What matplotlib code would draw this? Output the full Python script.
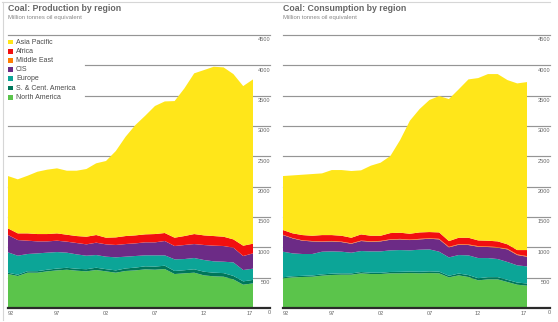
import matplotlib
matplotlib.use("Agg")
import matplotlib.pyplot as plt
from matplotlib.patches import Rectangle
from matplotlib.lines import Line2D
import matplotlib.transforms as mtransforms

plt.rcParams["font.family"] = ["Liberation Sans", "DejaVu Sans"]

years = list(range(1992, 2018))
regions = ["North America", "S. & Cent. America", "Europe", "CIS",
           "Middle East", "Africa", "Asia Pacific"]
colors = ["#5bc44b", "#00775a", "#0ca597", "#6c2b86",
          "#ff7f00", "#f20f0f", "#ffe61a"]

# Coal production by region, million tonnes oil equivalent
prod_na = [560, 527, 582, 582, 604, 620, 631, 615, 604, 626, 604, 582, 610,
           620, 637, 631, 642, 560, 571, 582, 538, 522, 516, 472, 384, 406]
prod_sca = [22, 22, 24, 25, 27, 30, 32, 32, 35, 38, 36, 38, 42,
            46, 50, 52, 55, 50, 52, 56, 60, 60, 59, 57, 55, 57]
prod_eu = [335, 313, 284, 293, 281, 272, 249, 237, 223, 209, 206, 215, 194,
           191, 181, 185, 171, 192, 184, 186, 193, 187, 188, 223, 187, 185]
prod_cis = [286, 258, 219, 198, 186, 187, 181, 187, 187, 203, 203, 203, 208,
            208, 214, 214, 236, 219, 231, 230, 247, 258, 258, 242, 230, 252]
prod_me = [1, 1, 1, 1, 1, 1, 1, 1, 1, 1, 1, 1, 1,
           1, 1, 1, 1, 1, 1, 1, 1, 1, 1, 1, 1, 1]
prod_af = [108, 109, 120, 120, 120, 120, 114, 114, 125, 126, 109, 125, 131,
           131, 131, 136, 131, 137, 147, 164, 158, 158, 153, 136, 170, 159]
prod_ap = [863, 891, 950, 1027, 1061, 1072, 1055, 1077, 1116, 1182, 1264, 1423,
           1637, 1819, 1955, 2111, 2169, 2252, 2434, 2649, 2725, 2791, 2791,
           2725, 2631, 2708]

# Coal consumption by region, million tonnes oil equivalent
cons_na = [489, 505, 511, 516, 533, 544, 549, 549, 571, 560, 560, 571, 571,
           576, 571, 576, 571, 505, 538, 511, 456, 472, 472, 428, 384, 368]
cons_sca = [18, 18, 19, 20, 21, 22, 22, 21, 22, 22, 21, 23, 25,
            25, 26, 28, 28, 26, 30, 32, 35, 36, 37, 36, 35, 36]
cons_eu = [421, 377, 360, 354, 374, 367, 357, 341, 346, 351, 352, 356, 359,
           349, 364, 362, 329, 303, 305, 324, 332, 315, 298, 294, 284, 282]
cons_cis = [274, 247, 219, 208, 164, 165, 159, 148, 165, 159, 165, 175, 176,
            170, 170, 176, 203, 165, 170, 171, 187, 182, 187, 208, 170, 159]
cons_me = [5, 5, 6, 6, 6, 7, 7, 7, 7, 8, 8, 8, 8,
           9, 9, 9, 9, 9, 9, 10, 10, 10, 10, 10, 10, 10]
cons_af = [78, 78, 87, 87, 104, 97, 97, 92, 102, 91, 85, 102, 102,
           95, 106, 101, 106, 95, 106, 110, 94, 94, 94, 73, 72, 100]
cons_ap = [890, 956, 995, 1017, 1017, 1072, 1083, 1100, 1056, 1155, 1204, 1270,
           1527, 1863, 2034, 2176, 2248, 2341, 2446, 2610, 2676, 2747, 2758,
           2708, 2747, 2769]

xtick_years = [1992, 1997, 2002, 2007, 2012, 2017]
xtick_labels = ["92", "97", "02", "07", "12", "17"]
ytick_values = [0, 500, 1000, 1500, 2000, 2500, 3000, 3500, 4000, 4500]

W, H = 558, 322
fig = plt.figure(figsize=(W / 100, H / 100), dpi=100)


def fx(px):
    return px / W


def fy(py):
    return 1 - py / H


GRID = "#959595"
TICK = "#666666"


def panel(left_px, right_px, x_right_year, series, title, legend_gap=None):
    ax = fig.add_axes([fx(left_px), fy(308), fx(right_px - left_px), (308 - 35) / H])
    ax.set_xlim(1992, x_right_year)
    ax.set_ylim(0, 4500)
    for s in ax.spines.values():
        s.set_visible(False)

    # horizontal guide lines behind the areas
    for v in ytick_values[1:]:
        xmin = 0
        if legend_gap is not None and v in (3500, 4000):
            xmin = legend_gap
        ax.axhline(v, xmin=xmin, xmax=1, color=GRID, lw=0.85, zorder=0,
                   clip_on=False)

    ax.stackplot(years, *series, colors=colors, lw=0, zorder=1)
    ax.axhline(0, color="#2a2a2a", lw=1.6, zorder=3, clip_on=False)

    ax.set_yticks([])
    ax.set_xticks(xtick_years)
    ax.set_xticklabels(xtick_labels, fontsize=4.1, color=TICK)
    ax.tick_params(axis="x", length=0, pad=2.2)
    labs = ax.get_xticklabels()
    labs[0].set_ha("left")
    labs[-1].set_ha("right")

    off = mtransforms.ScaledTranslation(0.3 / 72, -1.6 / 72, fig.dpi_scale_trans)
    for v in ytick_values:
        ax.text(1.0, v, str(v), transform=ax.get_yaxis_transform() + off,
                ha="right", va="top", fontsize=4.1, color=TICK, clip_on=False)

    fig.text(fx(left_px), fy(4), title, fontsize=6.3, fontweight="bold",
             color="#666666", ha="left", va="top")
    fig.text(fx(left_px), fy(15), "Million tonnes oil equivalent", fontsize=4.3,
             color="#888888", ha="left", va="top")
    return ax


prod = [prod_na, prod_sca, prod_eu, prod_cis, prod_me, prod_af, prod_ap]
cons = [cons_na, cons_sca, cons_eu, cons_cis, cons_me, cons_af, cons_ap]

ax1 = panel(8, 270, 1992 + 262 / 9.8, prod, "Coal: Production by region",
            legend_gap=(85 - 8) / 262)
ax2 = panel(283, 550, 1992 + 267 / 9.76, cons, "Coal: Consumption by region")

# legend, listed from the top of the stack downwards
for i, (name, c) in enumerate(zip(regions[::-1], colors[::-1])):
    yc = 42 + i * 9.2
    fig.add_artist(Rectangle((fx(8), fy(yc + 2.4)), fx(4.8), 4.8 / H,
                             transform=fig.transFigure, color=c, lw=0))
    fig.text(fx(16), fy(yc), name, fontsize=5, color="#4a4a4a",
             ha="left", va="center")

# thin outer frame
fig.add_artist(Line2D([fx(2), fx(550)], [fy(1.5), fy(1.5)], color="#d6d6d6",
                      lw=0.8, transform=fig.transFigure))
fig.add_artist(Line2D([fx(2.5), fx(2.5)], [fy(1.5), fy(320)], color="#d6d6d6",
                      lw=0.8, transform=fig.transFigure))

fig.savefig("out.png", dpi=100)
